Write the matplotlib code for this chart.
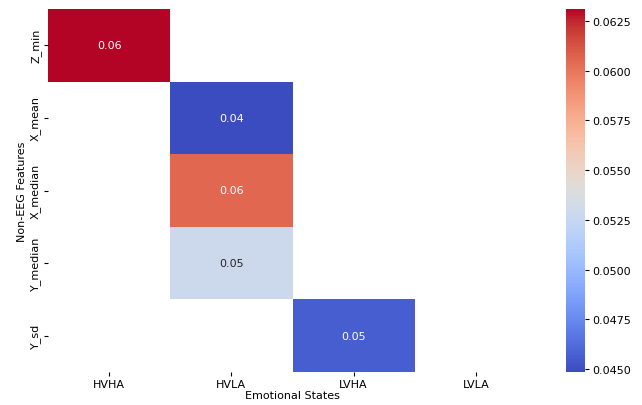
import numpy as np
import pandas as pd
import seaborn as sns
import matplotlib
matplotlib.use("Agg")
import matplotlib.pyplot as plt

states = ["HVHA", "HVLA", "LVHA", "LVLA"]
features = ["Z_min", "X_mean", "X_median", "Y_median", "Y_sd"]

# importance values, NaN where no cell is drawn
hvha = [0.0631, np.nan, np.nan, np.nan, np.nan]
hvla = [np.nan, 0.04485, 0.0606, 0.0529, np.nan]
lvha = [np.nan, np.nan, np.nan, np.nan, 0.0456]
lvla = [np.nan, np.nan, np.nan, np.nan, np.nan]

df = pd.DataFrame({"HVHA": hvha, "HVLA": hvla, "LVHA": lvha, "LVLA": lvla},
                  index=features)

fs = 8
fig = plt.figure(figsize=(6.42, 4.06), dpi=100)
ax = fig.add_axes([48 / 642, 1 - 373 / 406, (537 - 48) / 642, (373 - 10) / 406])
cax = fig.add_axes([566 / 642, 1 - 373 / 406, 19 / 642, (373 - 10) / 406])

sns.heatmap(df, annot=True, fmt=".2f", cmap="coolwarm", ax=ax, cbar_ax=cax,
            annot_kws={"fontsize": fs})
ax.set_xlabel("Emotional States", fontsize=fs, labelpad=1)
ax.set_ylabel("Non-EEG Features", fontsize=fs, labelpad=2)
ax.tick_params(labelsize=fs, length=3, pad=2)
cax.tick_params(labelsize=fs, length=3, pad=2.5)
cax.yaxis.set_major_formatter(matplotlib.ticker.FormatStrFormatter("%.4f"))

fig.savefig("out.png", dpi=100)
